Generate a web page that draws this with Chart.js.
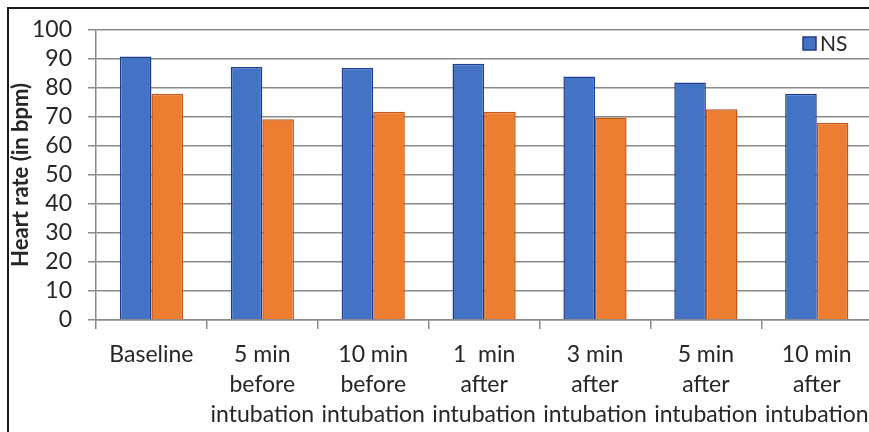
<!DOCTYPE html>
<html>
<head>
<meta charset="utf-8">
<script src="https://cdn.jsdelivr.net/npm/chart.js@4.4.1/dist/chart.umd.min.js"></script>
<style>
  html, body { margin: 0; padding: 0; background: #fff; }
  #wrap { position: relative; width: 869px; height: 432px; overflow: hidden; background: #fff; }
  #frame { position: absolute; left: 7px; top: 7px; width: 900px; height: 500px; border: 2px solid #1a1a1a; box-sizing: border-box; pointer-events: none; }
  canvas { position: absolute; left: 0; top: 0; }
</style>
</head>
<body>
<div id="wrap">
  <canvas id="c" width="880" height="432"></canvas>
  <div id="frame"></div>
</div>
<script>
const categories = [
  ["Baseline"],
  ["5 min", "before", "intubation"],
  ["10 min", "before", "intubation"],
  ["1  min", "after", "intubation"],
  ["3 min", "after", "intubation"],
  ["5 min", "after", "intubation"],
  ["10 min", "after", "intubation"]
];
const seriesNames = ["NS", "Series 2"];
const seriesNS = [90.8, 87.2, 86.8, 88.3, 83.9, 81.8, 78.0];
const series2 = [78.0, 69.2, 71.8, 71.8, 69.8, 72.6, 68.0];
const yTicks = [0, 10, 20, 30, 40, 50, 60, 70, 80, 90, 100];
const yTitle = "Heart rate (in bpm)";

const FONT = "Lato, 'DejaVu Sans', sans-serif";
const TEXT = "#262626";
const GRID = "#8a8a8a";

const legendPlugin = {
  id: 'nsLegend',
  afterDraw(chart) {
    const ctx = chart.ctx;
    const ds = chart.data.datasets[0];
    ctx.save();
    ctx.fillStyle = ds.backgroundColor;
    ctx.strokeStyle = ds.borderColor;
    ctx.lineWidth = 1.5;
    ctx.fillRect(803, 37, 13, 13);
    ctx.strokeRect(803, 37, 13, 13);
    ctx.fillStyle = TEXT;
    ctx.font = "21px " + FONT;
    ctx.textBaseline = "middle";
    ctx.textAlign = "left";
    ctx.fillText(ds.label, 820, 44);
    ctx.restore();
  }
};

new Chart(document.getElementById('c'), {
  type: 'bar',
  data: {
    labels: categories,
    datasets: [
      { label: seriesNames[0], data: seriesNS, backgroundColor: '#4472C4', borderColor: '#1f3d8f', borderWidth: 1.5 },
      { label: seriesNames[1], data: series2, backgroundColor: '#ED7D31', borderColor: '#c0581a', borderWidth: 1.5 }
    ]
  },
  options: {
    responsive: false,
    animation: false,
    devicePixelRatio: 1,
    layout: { padding: { left: 8, right: 7, top: 22, bottom: 0 } },
    datasets: { bar: { categoryPercentage: 0.57, barPercentage: 1.0 } },
    plugins: { legend: { display: false }, tooltip: { enabled: false } },
    scales: {
      x: {
        grid: { display: true, drawOnChartArea: false, drawTicks: true, tickLength: 9, color: GRID, lineWidth: 1.5, offset: true },
        border: { display: true, color: GRID, width: 1.5 },
        ticks: { color: TEXT, font: { family: FONT, size: 23, lineHeight: 1.3 }, padding: 11, maxRotation: 0, autoSkip: false },
        afterFit(scale) { scale.height = 112; }
      },
      y: {
        min: 0, max: 100,
        afterBuildTicks(scale) { scale.ticks = yTicks.map(v => ({ value: v })); },
        grid: { color: GRID, lineWidth: 1.5, drawTicks: true, tickLength: 8 },
        border: { display: true, color: GRID, width: 1.5 },
        ticks: { color: TEXT, font: { family: FONT, size: 23 }, padding: 16, autoSkip: false, stepSize: 10 },
        title: { display: true, text: yTitle, color: TEXT, font: { family: FONT, size: 22, weight: 'bold', lineHeight: 1.0 }, padding: { top: 2, bottom: 0 } },
        afterFit(scale) { scale.width = 88; }
      }
    }
  },
  plugins: [legendPlugin]
});
</script>
</body>
</html>
